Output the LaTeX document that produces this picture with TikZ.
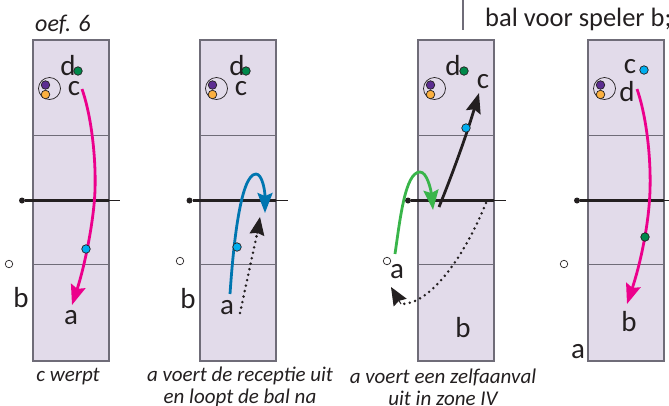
\documentclass[tikz,border=0pt]{standalone}
\usepackage{fontspec}
\setmainfont{Carlito}
\usetikzlibrary{arrows.meta}
\definecolor{courtfill}{HTML}{E2DBEA}
\definecolor{courtedge}{HTML}{6F6C78}
\definecolor{inkblack}{HTML}{231F20}
\definecolor{passpink}{HTML}{EC008C}
\definecolor{passblue}{HTML}{0076B0}
\definecolor{passgreen}{HTML}{39B54A}
\definecolor{dotgreen}{HTML}{00894B}
\definecolor{dotblue}{HTML}{00AEEF}
\definecolor{dotpurple}{HTML}{5C2D91}
\definecolor{dotorange}{HTML}{FBB040}
\tikzset{
	player/.style={font=\fontsize{29}{29}\selectfont,text=inkblack,inner sep=0pt},
	caption/.style={font=\fontsize{21}{22}\selectfont\itshape,text=inkblack,inner sep=0pt,align=center},
	heading/.style={font=\fontsize{26.5}{26.5}\selectfont,text=inkblack,inner sep=0pt,anchor=base west},
	dot/.style={circle,draw=inkblack,line width=0.7pt,minimum size=8.5pt,inner sep=0pt,fill=#1},
	netdot/.style={circle,fill=inkblack,minimum size=6pt,inner sep=0pt},
	emptydot/.style={circle,draw=inkblack,fill=white,line width=0.7pt,minimum size=7.5pt,inner sep=0pt},
	group/.style={circle,draw=inkblack,line width=0.7pt,minimum size=22pt,inner sep=0pt},
	pass/.style={line width=2.8pt,-{Stealth[length=20pt,width=15pt,inset=3pt]},#1},
	run/.style={line width=2.8pt,line cap=round,dash pattern=on 0pt off 5.6pt,inkblack},
	runtip/.style={-{Stealth[length=18pt,width=15pt,inset=2pt]},inkblack,line width=1pt}
}
\begin{document}
\begin{tikzpicture}[x=1pt,y=-1pt]
	\useasboundingbox (0,0) rectangle (669,405);

	% velden
	\foreach \nr/\xl/\xn/\xe in {1/33/22/120,2/200/189.5/288,3/418/408/506,4/588/577/675}{
		\pgfmathsetmacro{\xr}{\xl+76}
		\fill[courtfill] (\xl,40) rectangle (\xr,361);
		\draw[courtedge,line width=1.4pt] (\xl,135.5) -- (\xr,135.5);
		\draw[courtedge,line width=1.4pt] (\xl,264.5) -- (\xr,264.5);
		\draw[courtedge,line width=1.6pt] (\xl,40) rectangle (\xr,361);
		\node[netdot] (net\nr) at (\xn,200.5) {};
		\coordinate (netin\nr) at (\xr,200.5);
		\coordinate (netend\nr) at (\xe,200.5);
		\draw[inkblack,line width=1pt] (netin\nr) -- (netend\nr);
		\draw[inkblack,line width=2.2pt] (net\nr) -- (netin\nr);
		\pgfmathsetmacro{\xg}{\xl+16.5}
		\pgfmathsetmacro{\xp}{\xl+12.5}
		\node[group] (grp\nr) at (\xg,88.5) {};
		\node[dot=dotpurple] (pur\nr) at (\xp,85) {};
		\node[dot=dotorange] (ora\nr) at (\xp,94.5) {};
	}

	% kop
	\node[heading,font=\fontsize{24}{24}\selectfont\itshape] (oef) at (35,31) {oef. 6};
	\node[heading] (bal) at (485,26) {bal voor speler b;};
	\coordinate (barA) at (463,0);
	\coordinate (barB) at (463,30);
	\draw[courtedge,line width=1.2pt] (barA) -- (barB);

	% veld 1
	\node[player] (d1) at (68,66) {d};
	\node[dot=dotgreen] (gr1) at (78,71) {};
	\node[player] (c1) at (74,89) {c};
	\node[player] (a1) at (71,318) {a};
	\node[player] (b1) at (21,298) {b};
	\node[emptydot] (o1) at (9,264) {};
	\coordinate (s1) at (82,89);
	\coordinate (t1) at (72,305);
	\draw[pass=passpink] (s1) .. controls (92,118) and (96,160) .. (95,190) .. controls (94,220) and (85,265) .. (t1);
	\node[dot=dotblue] (bl1) at (86,249) {};
	\node[caption,anchor=base] (cap1) at (68,381) {c werpt};

	% veld 2
	\node[player] (d2) at (237,66) {d};
	\node[dot=dotgreen] (gr2) at (246,71) {};
	\node[player] (c2) at (241,89) {c};
	\node[player] (a2) at (227,308) {a};
	\node[player] (b2) at (188,299) {b};
	\node[emptydot] (o2) at (180,261) {};
	\coordinate (s2) at (230,294);
	\coordinate (t2) at (265,213);
	\draw[pass=passblue] (s2) .. controls (233,250) and (240,174) .. (256,174) .. controls (262,174) and (265,190) .. (t2);
	\node[dot=dotblue] (bl2) at (237,247) {};
	\coordinate (rs2) at (240,313);
	\coordinate (rm2) at (257,234);
	\coordinate (rt2) at (260,217);
	\draw[run] (rs2) -- (rm2);
	\draw[runtip] (rm2) -- (rt2);
	\node[caption] (cap2) at (240,387) {a voert de receptie uit\\en loopt de bal na};

	% veld 3
	\node[player] (d3) at (453,66) {d};
	\node[dot=dotgreen] (gr3) at (464,71) {};
	\node[player] (c3) at (483,82) {c};
	\node[player] (a3) at (397,272) {a};
	\node[player] (b3) at (463,328) {b};
	\node[emptydot] (o3) at (387,261) {};
	\coordinate (s3) at (395,254);
	\coordinate (t3) at (433,210);
	\draw[pass=passgreen] (s3) .. controls (400,220) and (405,172) .. (420,172) .. controls (427,172) and (431,190) .. (t3);
	\coordinate (k3) at (439,207);
	\coordinate (kt3) at (479,93);
	\draw[pass=inkblack] (k3) .. controls (450,180) and (465,140) .. (kt3);
	\node[dot=dotblue] (bl3) at (466,128) {};
	\coordinate (rs3) at (486,203);
	\coordinate (rm3) at (401,304);
	\coordinate (rt3) at (391,287);
	\draw[run] (rs3) .. controls (462,262) and (428,305) .. (rm3);
	\draw[runtip] (rm3) -- (rt3);
	\node[caption] (cap3) at (443,387) {a voert een zelfaanval\\uit in zone IV};

	% veld 4
	\node[player] (c4) at (630,67) {c};
	\node[dot=dotblue] (bl4) at (644,70) {};
	\node[player] (d4) at (627,92) {d};
	\node[player] (b4) at (629,322) {b};
	\node[player] (a4) at (578,352) {a};
	\node[emptydot] (o4) at (564,264) {};
	\coordinate (s4) at (637,89);
	\coordinate (t4) at (627,304);
	\draw[pass=passpink] (s4) .. controls (647,118) and (651,160) .. (650,190) .. controls (649,225) and (640,265) .. (t4);
	\node[dot=dotgreen] (gr4) at (645,237) {};
\end{tikzpicture}
\end{document}
